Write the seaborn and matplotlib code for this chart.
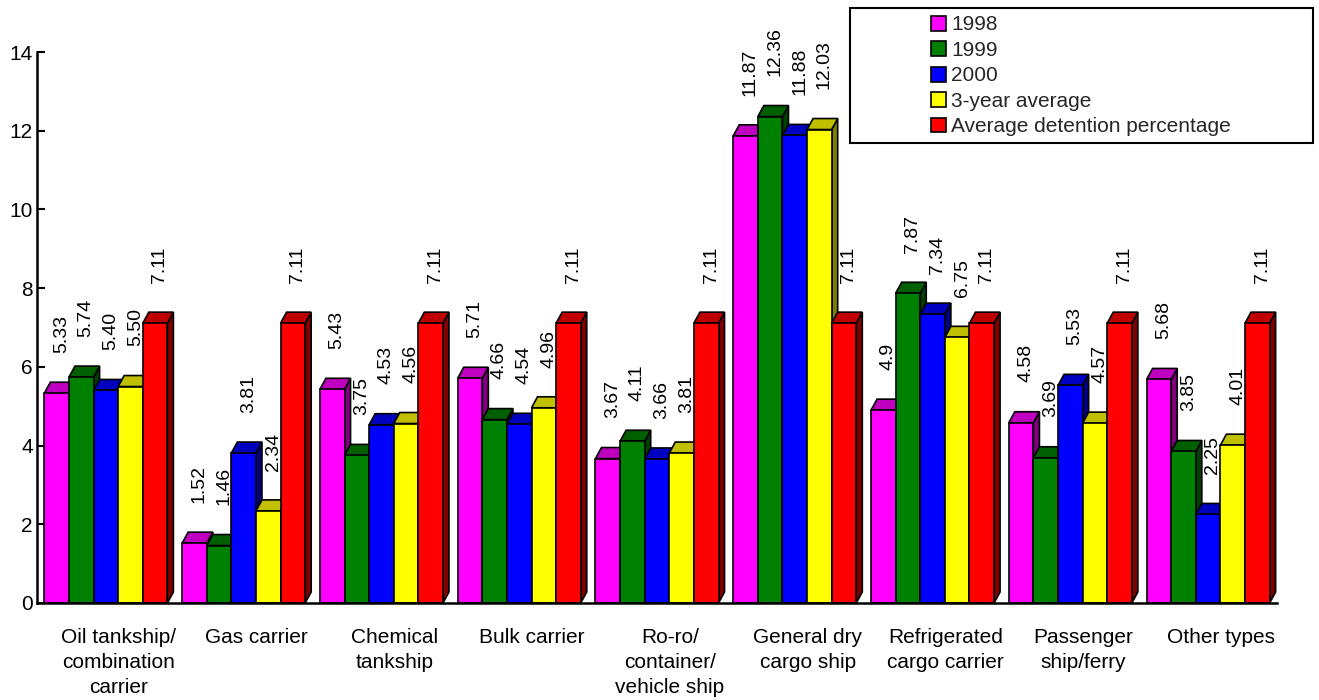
import matplotlib
matplotlib.use("Agg")
import numpy as np
import pandas as pd
import seaborn as sns
import matplotlib.pyplot as plt
from matplotlib.patches import Polygon, Rectangle, Patch
from matplotlib.transforms import ScaledTranslation

# ---- data -------------------------------------------------------------
categories = [
    "Oil tankship/\ncombination\ncarrier",
    "Gas carrier",
    "Chemical\ntankship",
    "Bulk carrier",
    "Ro-ro/\ncontainer/\nvehicle ship",
    "General dry\ncargo ship",
    "Refrigerated\ncargo carrier",
    "Passenger\nship/ferry",
    "Other types",
]
series_names = ["1998", "1999", "2000", "3-year average",
                "Average detention percentage"]

vals_1998 = ["5.33", "1.52", "5.43", "5.71", "3.67", "11.87", "4.9", "4.58", "5.68"]
vals_1999 = ["5.74", "1.46", "3.75", "4.66", "4.11", "12.36", "7.87", "3.69", "3.85"]
vals_2000 = ["5.40", "3.81", "4.53", "4.54", "3.66", "11.88", "7.34", "5.53", "2.25"]
vals_avg3 = ["5.50", "2.34", "4.56", "4.96", "3.81", "12.03", "6.75", "4.57", "4.01"]
vals_detention = ["7.11"] * 9

series_text = [vals_1998, vals_1999, vals_2000, vals_avg3, vals_detention]

front_colors = ["#FF00FF", "#008000", "#0000FF", "#FFFF00", "#FF0000"]
top_colors = ["#C000C0", "#006000", "#0000C0", "#C0C000", "#C00000"]
side_colors = ["#800080", "#004000", "#000080", "#808000", "#800000"]

rows = []
for name, texts in zip(series_names, series_text):
    for cat, t in zip(categories, texts):
        rows.append({"category": cat, "series": name, "value": float(t), "label": t})
df = pd.DataFrame(rows)

# ---- style ------------------------------------------------------------
sns.set_theme(style="white")
plt.rcParams["font.family"] = ["Liberation Sans", "DejaVu Sans"]

W, H = 1319, 700
fig = plt.figure(figsize=(W / 100, H / 100), dpi=100)
ax = fig.add_axes([37 / W, 97 / H, 1240 / W, 551 / H])

sns.barplot(
    data=df, x="category", y="value", hue="series",
    order=categories, hue_order=series_names, palette=front_colors,
    saturation=1, width=0.893, edgecolor="black", linewidth=1.2,
    errorbar=None, legend=False, ax=ax,
)
ax.set_xlim(-0.5, 8.5)
ax.set_ylim(0, 14)

# pixel depth of the pseudo-3D bars, converted into data units
DX_PX, DY_PX = 6, 11
origin = ax.transData.transform((0, 0))
ddx, ddy = ax.transData.inverted().transform(origin + np.array([DX_PX, DY_PX]))

for k, container in enumerate(ax.containers):
    texts = series_text[k]
    for bar, txt in zip(container.patches, texts):
        x0, w, h = bar.get_x(), bar.get_width(), bar.get_height()
        x1 = x0 + w
        base = 2 + k * 0.1
        bar.set_zorder(base + 0.05)
        side = Polygon([(x1, 0), (x1 + ddx, ddy), (x1 + ddx, h + ddy), (x1, h)],
                       closed=True, fc=side_colors[k], ec="black", lw=1.2,
                       zorder=base)
        top = Polygon([(x0, h), (x1, h), (x1 + ddx, h + ddy), (x0 + ddx, h + ddy)],
                      closed=True, fc=top_colors[k], ec="black", lw=1.2,
                      zorder=base + 0.01)
        ax.add_patch(side)
        ax.add_patch(top)
        ax.annotate(txt, xy=(x0 + w / 2, h), xytext=(3.5, 29),
                    textcoords="offset points", rotation=90,
                    ha="center", va="bottom", fontsize=14, color="black",
                    annotation_clip=False, zorder=6)

# ---- axes -------------------------------------------------------------
for s in ["top", "right"]:
    ax.spines[s].set_visible(False)
for s in ["left", "bottom"]:
    ax.spines[s].set_linewidth(1.8)
    ax.spines[s].set_color("black")
    ax.spines[s].set_zorder(7)

ax.set_yticks(range(0, 15, 2))
ax.tick_params(axis="y", direction="in", length=6, width=1.5,
               labelsize=15, pad=3, colors="black", left=True)
ax.tick_params(axis="x", length=0, labelsize=15, pad=18, colors="black")
ax.set_xlabel("")
ax.set_ylabel("")
shift = ScaledTranslation(13 / 100, 0, fig.dpi_scale_trans)
for lab in ax.get_xticklabels():
    lab.set_linespacing(1.40)
    lab.set_transform(lab.get_transform() + shift)

# ---- legend -----------------------------------------------------------
fig.patches.append(Rectangle((850 / W, 1 - 143 / H), 463 / W, 135 / H,
                             transform=fig.transFigure, fc="white",
                             ec="black", lw=1.5, zorder=1))
handles = [Patch(fc=c, ec="black", lw=1.2) for c in front_colors]
fig.legend(handles, series_names, loc="upper left",
           bbox_to_anchor=(931 / W, 1 - 15.5 / H), frameon=False, fontsize=15,
           handlelength=0.72, handleheight=0.72, handletextpad=0.25,
           labelspacing=0.31, borderpad=0, borderaxespad=0)

fig.savefig("out.png", dpi=100, facecolor="white")
